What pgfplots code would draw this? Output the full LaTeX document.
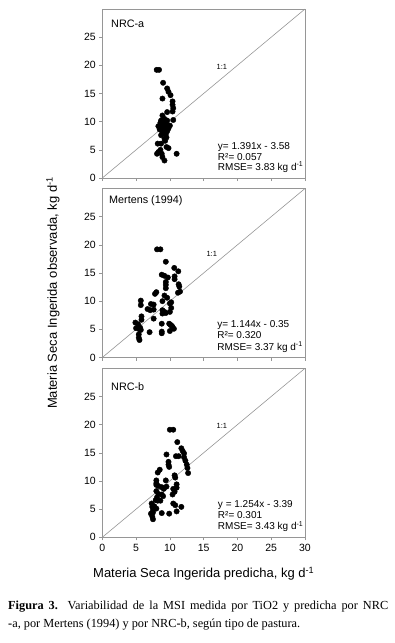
\documentclass[border=0pt]{standalone}
\usepackage{pgfplots}
\pgfplotsset{compat=1.18}
\usepackage{fontspec}
\setmainfont{Liberation Sans}
\newfontfamily\capfont{Liberation Serif}
\definecolor{framegray}{RGB}{150,150,150}

\pgfplotsset{panel/.style={
  scale only axis, width=202.7pt, height=169pt,
  xmin=0,xmax=30,ymin=0,ymax=30,
  xtick={0,5,...,30}, ytick={0,5,...,25},
  tick pos=left, tick align=outside, major tick length=3pt,
  axis line style={framegray, line width=0.6pt},
  every tick/.style={framegray, line width=0.6pt},
  tick label style={font=\fontsize{10.5}{12}\selectfont, black},
  /pgf/number format/assume math mode=true,
  anchor=north west, clip=false,
}}
\newcommand{\eqfont}{\fontsize{10}{11}\selectfont}
\newcommand{\onefont}{\fontsize{7.5}{8}\selectfont}
\newcommand{\panfont}{\fontsize{10.8}{12}\selectfont}

\begin{document}
\begin{tikzpicture}
\path[use as bounding box] (0,0) rectangle (395pt,-643pt);

% Panel 1: NRC-a
\begin{axis}[panel, at={(102.3pt,-9pt)}, xticklabels={}]
\addplot[framegray, line width=0.6pt] coordinates {(0,0) (30,30)};
\addplot[only marks, mark=*, mark size=2.7pt, black] table {
x y
8.05 19.2
8.4 19.2
9.0 16.9
9.6 15.9
9.8 15.3
10.1 14.7
8.9 14.1
10.4 13.6
10.4 13.0
10.5 12.4
10.4 11.8
9.6 11.7
8.9 11.1
9.2 10.5
8.7 10.2
9.6 10.2
10.5 10.3
8.6 9.8
9.0 9.6
9.5 9.5
8.3 9.2
8.8 9.0
9.3 8.9
9.8 8.8
8.5 8.6
9.1 8.4
9.6 8.3
8.9 8.0
9.4 7.8
8.7 7.6
9.5 7.2
9.3 6.6
8.2 6.1
8.7 6.1
9.5 5.5
9.8 5.3
8.3 4.6
8.8 4.3
8.1 4.3
11.0 4.3
8.9 3.7
9.2 3.1
8.6 5.0
9.0 9.9
10.0 9.3
9.2 7.0
};
\node[anchor=west, font=\panfont] at (axis cs:0.8,27.3) {NRC-a};
\node[font=\onefont] at (axis cs:17.7,19.8) {1:1};
\node[anchor=west, font=\eqfont] at (axis cs:16.6,5.5) {y= 1.391x - 3.58};
\node[anchor=west, font=\eqfont] at (axis cs:16.6,3.7) {R²= 0.057};
\node[anchor=west, font=\eqfont] at (axis cs:16.6,1.9) {RMSE= 3.83 kg d\textsuperscript{-1}};
\end{axis}

% Panel 2: Mertens
\begin{axis}[panel, at={(102.3pt,-188.5pt)}, xticklabels={}]
\addplot[framegray, line width=0.6pt] coordinates {(0,0) (30,30)};
\addplot[only marks, mark=*, mark size=2.7pt, black] table {
x y
8.1 19.2
8.6 19.2
9.4 17.0
8.8 14.7
9.2 14.5
9.7 14.2
10.65 15.9
11.25 15.3
10.7 14.4
10.7 13.9
9.4 13.4
9.4 12.9
9.4 12.3
11.3 13.0
11.4 12.6
11.5 11.7
11.2 11.5
8.0 11.6
7.8 11.3
9.2 11.0
9.6 10.6
8.9 10.0
10.2 9.8
10.0 9.6
5.7 10.1
5.7 9.3
7.2 9.5
7.6 9.4
6.7 8.6
7.1 8.4
7.6 8.5
8.9 8.4
9.2 8.1
9.4 7.9
8.9 7.8
10.2 8.8
10.0 8.1
5.8 7.3
5.8 6.7
7.6 6.9
4.9 6.2
5.3 5.9
8.8 6.0
9.9 6.0
10.1 5.8
10.3 5.6
5.6 5.3
5.5 5.0
5.7 4.9
5.0 5.2
10.4 5.4
10.6 5.1
10.0 4.7
8.8 4.6
8.8 4.3
7.0 4.5
5.4 4.1
5.4 3.5
5.5 3.1
};
\node[anchor=west, font=\panfont] at (axis cs:0.5,27.8) {Mertens (1994)};
\node[font=\onefont] at (axis cs:16.2,18.3) {1:1};
\node[anchor=west, font=\eqfont] at (axis cs:16.5,5.7) {y= 1.144x - 0.35};
\node[anchor=west, font=\eqfont] at (axis cs:16.5,3.9) {R²= 0.320};
\node[anchor=west, font=\eqfont] at (axis cs:16.5,1.8) {RMSE= 3.37 kg d\textsuperscript{-1}};
\end{axis}

% Panel 3: NRC-b
\begin{axis}[panel, at={(102.3pt,-368.3pt)}]
\addplot[framegray, line width=0.6pt] coordinates {(0,0) (30,30)};
\addplot[only marks, mark=*, mark size=2.7pt, black] table {
x y
10.0 19.1
10.5 19.1
11.1 16.9
11.7 15.8
11.9 15.3
12.1 14.9
10.9 14.4
11.3 14.4
9.5 14.7
12.1 14.2
12.3 13.6
9.8 13.4
9.8 12.9
9.9 12.5
12.5 12.9
12.6 12.3
12.7 11.4
8.5 12.0
8.2 11.5
10.7 11.0
10.8 10.6
8.0 10.1
8.0 9.6
8.0 9.3
9.4 10.1
11.0 9.4
11.0 8.8
8.3 9.1
8.8 8.9
9.1 8.6
10.5 8.6
10.7 8.1
8.0 8.2
8.3 7.7
8.8 7.6
10.4 7.6
8.1 7.1
8.2 6.5
7.9 6.6
8.6 6.5
7.3 6.0
7.4 5.4
7.7 5.5
8.0 5.1
10.5 6.0
10.8 5.7
11.7 5.4
7.5 4.8
7.5 4.4
8.8 4.3
9.9 4.2
11.0 4.6
7.4 3.7
7.5 3.2
7.2 4.2
9.5 9.0
9.0 7.3
};
\node[anchor=west, font=\panfont] at (axis cs:0.8,26.7) {NRC-b};
\node[font=\onefont] at (axis cs:17.7,19.8) {1:1};
\node[anchor=west, font=\eqfont] at (axis cs:16.6,5.8) {y = 1.254x - 3.39};
\node[anchor=west, font=\eqfont] at (axis cs:16.6,4.0) {R²= 0.301};
\node[anchor=west, font=\eqfont] at (axis cs:16.6,1.9) {RMSE= 3.43 kg d\textsuperscript{-1}};
\end{axis}

% axis labels
\node[rotate=90, font=\fontsize{13}{15}\selectfont] at (53pt,-293pt) {Materia Seca Ingerida observada, kg d\textsuperscript{-1}};
\node[font=\fontsize{13}{15}\selectfont] at (203.7pt,-573.5pt) {Materia Seca Ingerida predicha, kg d\textsuperscript{-1}};

% caption (first line justified)
\node[anchor=base west, inner sep=0pt, font=\capfont\fontsize{12.3}{14}\selectfont] at (8pt,-609pt) {\makebox[380pt][s]{\textbf{Figura 3.} Variabilidad de la MSI medida por TiO2 y predicha por NRC}};
\node[anchor=base west, inner sep=0pt, font=\capfont\fontsize{12.3}{14}\selectfont] at (8pt,-627pt) {\textbf{-}a, por Mertens (1994) y por NRC\textbf{-}b, según tipo de pastura.};
\end{tikzpicture}
\end{document}
